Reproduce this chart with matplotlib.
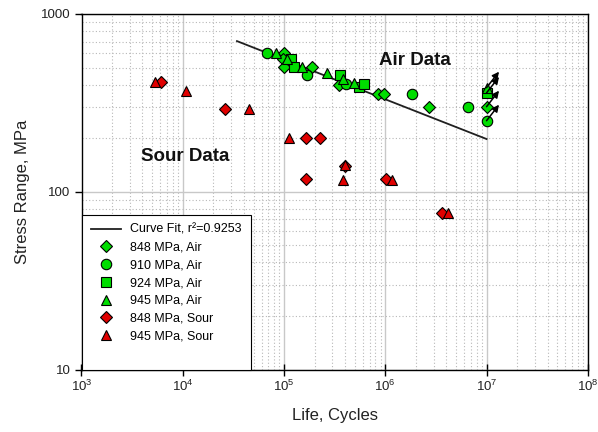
import numpy as np
import matplotlib
matplotlib.use("Agg")
import matplotlib.pyplot as plt
from matplotlib.lines import Line2D
from matplotlib.transforms import offset_copy

plt.rcParams['font.family'] = ['Liberation Sans', 'DejaVu Sans']
plt.rcParams['mathtext.fontset'] = 'custom'
plt.rcParams['mathtext.rm'] = 'Liberation Sans'
plt.rcParams['mathtext.it'] = 'Liberation Sans:italic'
plt.rcParams['mathtext.bf'] = 'Liberation Sans:bold'

# ---- data ----
air848_N = [99800, 96800, 100000, 187000, 351000, 851000, 975000, 2.72e6]
air848_S = [607, 558, 506, 506, 399, 353, 353, 301]
air910_N = [68500, 169000, 406000, 1.83e6, 6.58e6]
air910_S = [607, 454, 404, 353, 301]
air924_N = [116000, 126000, 360000, 553000, 615000]
air924_S = [558, 506, 454, 390, 404]
air945_N = [84100, 107700, 149000, 268000, 379000, 490000]
air945_S = [607, 558, 506, 463, 429, 411]

# run-outs at 1e7 cycles (with arrows)
runout_N = [1.0e7, 1.0e7, 1.0e7, 1.0e7]
runout_S = [301, 251, 360, 385]
runout_series = ['848', '910', '924', '945']

sour848_N = [6090, 26100, 166000, 226000, 166000, 399000, 1.01e6, 3.6e6]
sour848_S = [413, 292, 200, 200, 118, 139, 118, 76]
sour945_N = [5320, 10700, 45100, 112000, 399000, 384000, 1.17e6, 4.18e6]
sour945_S = [416, 370, 292, 200, 142, 117, 117, 76]

fit_N = [3.43e4, 1.0e7]
fit_S0 = 198.0      # stress at 1e7
fit_slope = -0.2235

fig = plt.figure(figsize=(5.98, 4.32), dpi=100)
ax = fig.add_axes([81.5/598, 1-369.5/432, (587.8-81.5)/598, (369.5-14)/432])
ax.set_xscale('log')
ax.set_yscale('log')
ax.set_xlim(1e3, 1e8)
ax.set_ylim(10, 1000)

ax.grid(True, which='major', color='#c8c8c8', linestyle='-', linewidth=1.0)
ax.grid(True, which='minor', color='#b8b8b8', linestyle=(0, (1, 2)), linewidth=0.8)
ax.set_axisbelow(True)

green = '#00dd00'
red = '#e00000'

Nf = np.logspace(np.log10(fit_N[0]), np.log10(fit_N[1]), 50)
Sf = fit_S0 * (Nf / 1e7) ** fit_slope
ax.plot(Nf, Sf, color='#202020', lw=1.3, label='Curve Fit, r\u00b2=0.9253', zorder=3)

style = dict(markeredgecolor='black', markeredgewidth=0.8, linestyle='none', zorder=4)
mk = {'848': ('D', 6), '910': ('o', 7.5), '924': ('s', 6.5), '945': ('^', 7.5)}

rdict = {s: ([], []) for s in mk}
for n, s, k in zip(runout_N, runout_S, runout_series):
    rdict[k][0].append(n)
    rdict[k][1].append(s)

for key, (N, S) in [('848', (air848_N, air848_S)), ('910', (air910_N, air910_S)),
                    ('924', (air924_N, air924_S)), ('945', (air945_N, air945_S))]:
    m, ms = mk[key]
    ax.plot(N + rdict[key][0], S + rdict[key][1], marker=m, ms=ms, color=green,
            label=f'{key} MPa, Air', **style)

ax.plot(sour848_N, sour848_S, marker='D', ms=6, color=red, label='848 MPa, Sour', **style)
ax.plot(sour945_N, sour945_S, marker='^', ms=7.5, color=red, label='945 MPa, Sour', **style)

# run-out arrows pointing up-right from each run-out point
head_tr = offset_copy(ax.transData, fig=fig, x=9, y=11.5, units='points')
for n, s in zip(runout_N, runout_S):
    ax.annotate('', xy=(n, s), xycoords=head_tr,
                xytext=(n, s), textcoords='data',
                arrowprops=dict(arrowstyle='-|>', color='black', lw=1.1,
                                mutation_scale=10, shrinkA=0, shrinkB=0),
                annotation_clip=False, zorder=5)

ax.text(0.5875, 0.87, 'Air Data', transform=ax.transAxes, fontsize=13.5,
        fontweight='bold', ha='left', va='center', color='#111111')
ax.text(0.118, 0.598, 'Sour Data', transform=ax.transAxes, fontsize=13.5,
        fontweight='bold', ha='left', va='center', color='#111111')

ax.set_xticks([1e3, 1e4, 1e5, 1e6, 1e7, 1e8])
ax.set_xticklabels([r'$10^{%d}$' % i for i in range(3, 9)])
ax.set_yticks([10, 100, 1000])
ax.set_yticklabels(['10', '100', '1000'])
ax.tick_params(which='major', labelsize=9.5, colors='black', labelcolor='#222222', width=1)
ax.tick_params(axis='x', which='major', direction='inout', length=8, pad=3)
ax.tick_params(axis='y', which='major', direction='out', length=5, pad=3)
ax.tick_params(which='minor', length=0)
for sp in ax.spines.values():
    sp.set_color('black')
    sp.set_linewidth(1.0)

ax.set_xlabel('Life, Cycles', fontsize=12, color='#222222', labelpad=10)
ax.set_ylabel('Stress Range, MPa', fontsize=12, color='#222222', labelpad=8)

handles, labels = ax.get_legend_handles_labels()
handles.append(Line2D([], [], linestyle='none', marker=None))
labels.append(' ')
leg = ax.legend(handles, labels, loc='lower left', bbox_to_anchor=(0, 0), fontsize=9,
                frameon=True, fancybox=False, edgecolor='black', framealpha=1,
                borderaxespad=0, handlelength=2.4, labelspacing=0.46,
                borderpad=0.75, handletextpad=0.75)
leg.get_frame().set_linewidth(0.8)

fig.savefig('out.png', dpi=100)
